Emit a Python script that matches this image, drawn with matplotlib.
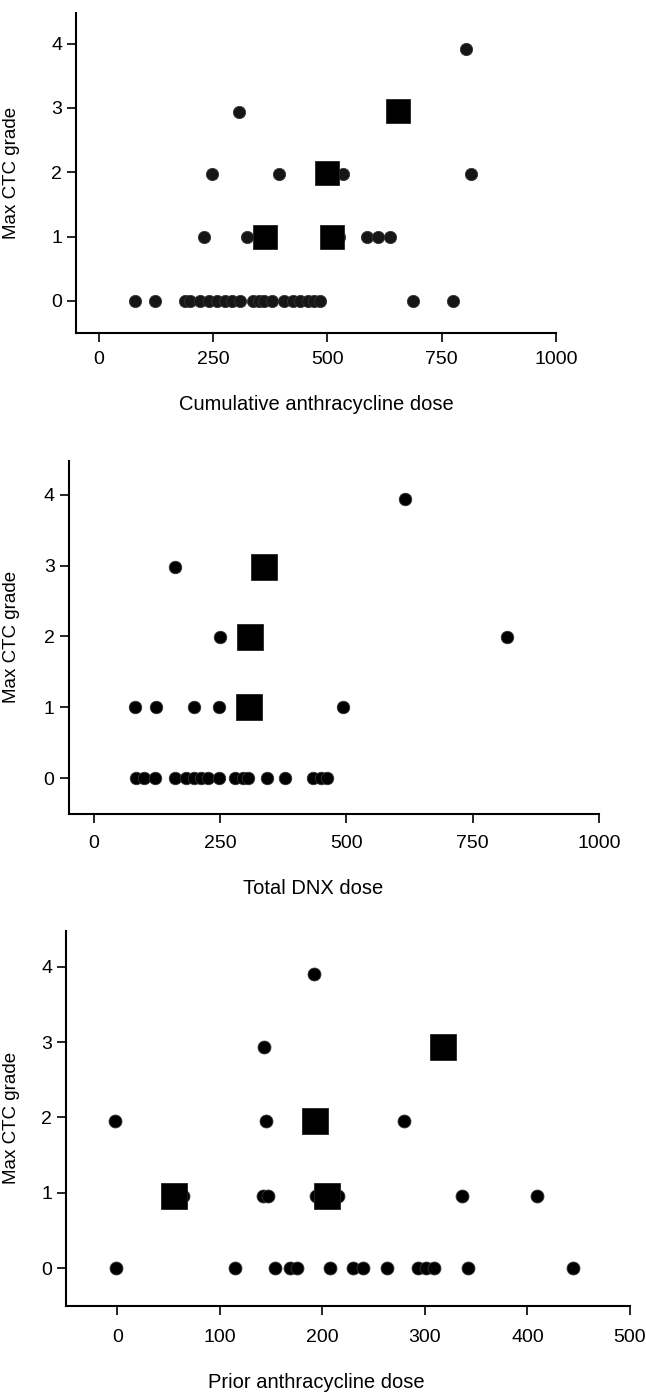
import matplotlib
matplotlib.use("Agg")
import matplotlib.pyplot as plt

plt.rcParams['font.family'] = ['Liberation Sans', 'DejaVu Sans']

# ---------------- data ----------------
# Panel 1: cumulative anthracycline dose
p1_circle_x = [804, 307, 247, 393, 533, 813, 229, 323, 525, 587, 611, 636,
               80, 123, 188, 200, 222, 240, 258, 275, 292, 308, 338, 350,
               362, 378, 405, 425, 440, 458, 470, 483, 688, 774]
p1_circle_y = [3.92, 2.94, 1.97, 1.97, 1.97, 1.97, 1.0, 1.0, 1.0, 1.0, 1.0, 1.0,
               0, 0, 0, 0, 0, 0, 0, 0, 0, 0, 0, 0,
               0, 0, 0, 0, 0, 0, 0, 0, 0, 0]
p1_square_x = [654, 500, 363, 509]
p1_square_y = [2.95, 1.98, 1.0, 1.0]

# Panel 2: total DNX dose
p2_circle_x = [616, 160, 249, 817, 82, 123, 198, 247, 493,
               83, 100, 121, 161, 182, 198, 212, 226, 248, 280, 296, 305,
               343, 379, 433, 449, 462]
p2_circle_y = [3.94, 2.98, 1.99, 1.99, 1, 1, 1, 1, 1,
               0, 0, 0, 0, 0, 0, 0, 0, 0, 0, 0, 0,
               0, 0, 0, 0, 0]
p2_square_x = [337, 309, 307]
p2_square_y = [2.98, 1.99, 1.0]

# Panel 3: prior anthracycline dose
p3_circle_x = [192, 143, -2, 145, 280, 64, 142, 147, 194, 215, 336, 409,
               -1, 115, 154, 168, 175, 207, 230, 240, 263, 293, 301, 309, 342, 444]
p3_circle_y = [3.91, 2.93, 1.95, 1.95, 1.95, 0.96, 0.96, 0.96, 0.96, 0.96, 0.96, 0.96,
               0, 0, 0, 0, 0, 0, 0, 0, 0, 0, 0, 0, 0, 0]
p3_square_x = [318, 193, 55, 205]
p3_square_y = [2.93, 1.95, 0.96, 0.96]

y_ticks = [0, 1, 2, 3, 4]
x_ticks_1 = [0, 250, 500, 750, 1000]
x_ticks_3 = [0, 100, 200, 300, 400, 500]
y_label = "Max CTC grade"
x_labels = ["Cumulative anthracycline dose", "Total DNX dose", "Prior anthracycline dose"]

# ---------------- figure ----------------
W, H = 646, 1395
fig = plt.figure(figsize=(W / 100, H / 100), dpi=100)

# axes boxes in pixels: left, right, top, bottom
boxes = [(76, 556, 12.7, 333), (68.5, 599, 460.7, 813.7), (66, 630, 930.7, 1305.7)]
xlims = [(-50, 1000), (-50, 1000), (-50, 500)]
xticks = [x_ticks_1, x_ticks_1, x_ticks_3]
xlabel_pos = [(316, 405), (313, 888), (316, 1382)]
xtick_pad = [6.5, 8.5, 10]
circ_ms = [8.8, 9.0, 9.3]
sq_ms = [17, 18.5, 18.5]
circ_colors = ['#161616', 'black', 'black']
data = [(p1_circle_x, p1_circle_y, p1_square_x, p1_square_y),
        (p2_circle_x, p2_circle_y, p2_square_x, p2_square_y),
        (p3_circle_x, p3_circle_y, p3_square_x, p3_square_y)]

for i, (l, r, t, b) in enumerate(boxes):
    ax = fig.add_axes([l / W, 1 - b / H, (r - l) / W, (b - t) / H])
    cx, cy, sx, sy = data[i]
    ax.plot(cx, cy, 'o', color=circ_colors[i], markersize=circ_ms[i],
            markeredgecolor='#333333', markeredgewidth=0.6, zorder=3)
    ax.plot(sx, sy, 's', color='black', markersize=sq_ms[i],
            markeredgecolor='#222222', markeredgewidth=0.6, zorder=4)
    ax.set_xlim(*xlims[i])
    ax.set_ylim(-0.5, 4.48)
    ax.set_xticks(xticks[i])
    ax.set_yticks(y_ticks)
    for s in ['top', 'right']:
        ax.spines[s].set_visible(False)
    for s in ['left', 'bottom']:
        ax.spines[s].set_linewidth(1.5)
        ax.spines[s].set_color('black')
    ax.tick_params(axis='both', direction='out', length=6.5, width=1.2,
                   labelsize=14, colors='black')
    ax.tick_params(axis='x', pad=xtick_pad[i])
    ax.tick_params(axis='y', pad=3.5)
    ax.set_ylabel(y_label, fontsize=13.5)
    ax.yaxis.set_label_coords((20 - l) / (r - l), 0.5)
    ax.set_xlabel(x_labels[i], fontsize=14.5, va='center')
    lx, ly = xlabel_pos[i]
    ax.xaxis.set_label_coords((lx - l) / (r - l), (b - ly) / (b - t))

fig.savefig("out.png", dpi=100)
